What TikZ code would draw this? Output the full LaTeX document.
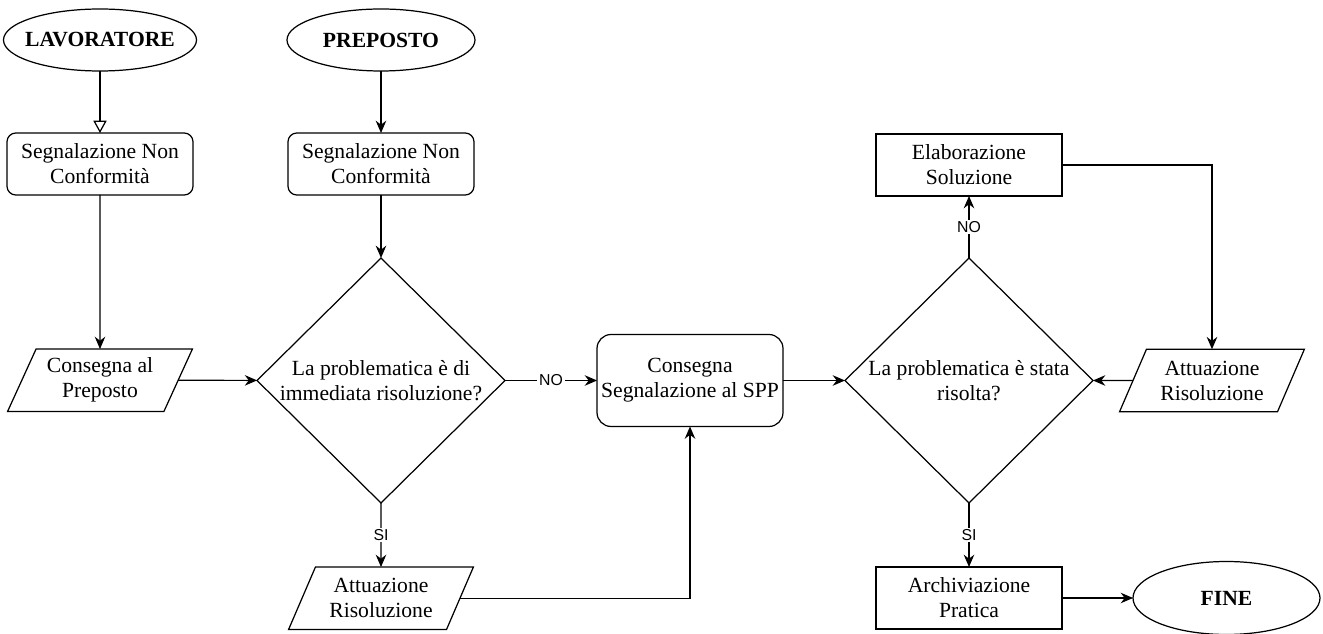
\documentclass[tikz,border=0pt]{standalone}
\usepackage{fontspec}
\setmainfont{Liberation Serif}
\newfontfamily\edgefont{Liberation Sans}
\usetikzlibrary{positioning,arrows.meta,shapes.geometric}

\begin{document}
\begin{tikzpicture}[>=Stealth,
  every node/.style={outer sep=0pt},
  box/.style={rectangle, rounded corners=5pt, draw=black, line width=0.7pt,
    minimum width=37.2mm, minimum height=12.4mm, inner sep=2pt, align=center,
    font=\fontsize{12.3}{14.2}\selectfont},
  plainbox/.style={box, sharp corners},
  bigbox/.style={box, rounded corners=8pt, minimum height=18.4mm},
  io/.style={trapezium, trapezium left angle=63, trapezium right angle=117,
    trapezium stretches=true, draw=black, line width=0.7pt,
    minimum width=37.2mm, minimum height=12.5mm, inner sep=1pt, align=center,
    font=\fontsize{12.3}{14.2}\selectfont},
  decision/.style={diamond, draw=black, line width=0.7pt, minimum width=49.6mm,
    minimum height=49mm, inner sep=0pt, align=center,
    font=\fontsize{12.3}{14.2}\selectfont},
  terminal/.style={ellipse, draw=black, line width=0.7pt, minimum width=38.6mm,
    minimum height=12.4mm, inner xsep=-4pt, inner ysep=1pt,
    font=\bfseries\fontsize{12.3}{14.2}\selectfont},
  arrow/.style={-{Stealth[length=7pt,width=6pt]}, line width=0.7pt},
  openarrow/.style={-{Triangle[open,length=7pt,width=7.5pt]}, line width=0.7pt},
  lbl/.style={fill=white, inner sep=1pt, font=\edgefont\fontsize{9}{10}\selectfont}]

  \useasboundingbox (0,0) rectangle (26.46,-12.68);

  % worker branch
  \node[terminal] (lav) at (2.0,-0.8) {LAVORATORE};
  \node[box, below=1.24cm of lav] (seg1) {Segnalazione Non\\Conformità};
  \node[io, below=3.08cm of seg1] (cons) {Consegna al\\Preposto};

  % supervisor branch
  \node[terminal, minimum width=37.6mm] (prep) at (7.62,-0.8) {PREPOSTO};
  \node[box, below=1.24cm of prep] (seg2) {Segnalazione Non\\Conformità};
  \node[decision, below=1.26cm of seg2] (dec1) {La problematica è di\\immediata risoluzione?};
  \node[io, below=1.28cm of dec1] (att1) {Attuazione\\Risoluzione};

  % SPP
  \node[bigbox, right=1.84cm of dec1] (spp) {Consegna\\Segnalazione al SPP};
  \node[decision, right=1.24cm of spp] (dec2) {La problematica è stata\\risolta?};
  \node[plainbox, above=1.24cm of dec2] (elab) {Elaborazione\\Soluzione};
  \node[io, right=0.8cm of dec2] (att2) {Attuazione\\Risoluzione};
  \node[plainbox, below=1.28cm of dec2] (arch) {Archiviazione\\Pratica};
  \node[terminal, minimum width=37.4mm, minimum height=14.6mm, right=1.42cm of arch] (fine) {FINE};

  \draw[openarrow] (lav) -- (seg1);
  \draw[arrow] (seg1) -- (cons);
  \draw[arrow] (cons) -- (dec1);
  \draw[arrow] (prep) -- (seg2);
  \draw[arrow] (seg2) -- (dec1);
  \draw[arrow] (dec1) -- node[lbl] {NO} (spp);
  \draw[arrow] (dec1) -- node[lbl] {SI} (att1);
  \draw[arrow] (att1.east) -| (spp.south);
  \draw[arrow] (spp) -- (dec2);
  \draw[arrow] (dec2) -- node[lbl] {NO} (elab);
  \draw[arrow] (elab.east) -| (att2.north);
  \draw[arrow] (att2) -- (dec2);
  \draw[arrow] (dec2) -- node[lbl] {SI} (arch);
  \draw[arrow] (arch) -- (fine);
\end{tikzpicture}
\end{document}
